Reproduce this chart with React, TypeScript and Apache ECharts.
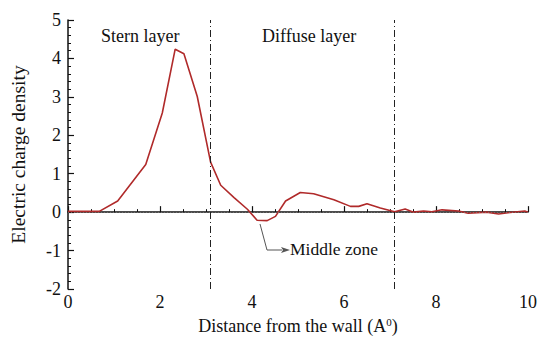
import React, { useEffect, useRef } from "react";
import * as echarts from "echarts";

const distance = [0, 0.68, 1.08, 1.69, 2.05, 2.33, 2.52, 2.81, 3.1, 3.32, 3.61, 3.9, 4.11, 4.33, 4.51, 4.73, 5.05, 5.34, 5.78, 6.14, 6.32, 6.5, 6.79, 7.1, 7.33, 7.51, 7.73, 7.91, 8.13, 8.49, 8.7, 9.1, 9.36, 9.61, 9.93, 10];
const density = [0.02, 0.02, 0.29, 1.24, 2.58, 4.24, 4.12, 3.01, 1.3, 0.7, 0.38, 0.075, -0.21, -0.22, -0.11, 0.29, 0.51, 0.48, 0.32, 0.15, 0.15, 0.22, 0.11, 0.01, 0.08, 0.0, 0.03, 0.01, 0.06, 0.03, -0.03, 0.0, -0.05, -0.01, 0.03, 0.0];
const layerBounds = [3.09, 7.1];
const regionLabels = ["Stern layer", "Diffuse layer", "Middle zone"];

const FONT = "Liberation Serif, Times New Roman, serif";

export default function App() {
  const ref = useRef<HTMLDivElement>(null);
  useEffect(() => {
    document.body.style.margin = "0";
    if (!ref.current) return;
    const chart = echarts.init(ref.current, undefined, { renderer: "svg" });
    chart.setOption({
      animation: false,
      textStyle: { fontFamily: FONT },
      grid: { left: 67, right: 12, top: 20, bottom: 50 },
      xAxis: {
        type: "value",
        min: 0,
        max: 10,
        interval: 2,
        name: "Distance from the wall (A{sup|0})",
        nameLocation: "middle",
        nameGap: 27,
        nameTextStyle: {
          fontFamily: FONT,
          fontSize: 18,
          color: "#111",
          rich: { sup: { fontFamily: FONT, fontSize: 11, verticalAlign: "top", padding: [0, 0, 9, 0], color: "#111" } },
        },
        axisLine: { lineStyle: { color: "#111", width: 1.5 } },
        axisTick: { inside: true, length: 6, lineStyle: { color: "#111", width: 1.2 } },
        minorTick: { show: true, splitNumber: 4, length: 3, lineStyle: { color: "#111", width: 1 } },
        axisLabel: { fontFamily: FONT, fontSize: 18, color: "#111", margin: 4 },
        splitLine: { show: false },
      },
      yAxis: {
        type: "value",
        min: -2,
        max: 5,
        interval: 1,
        name: "Electric charge density",
        nameLocation: "middle",
        nameGap: 40,
        nameTextStyle: { fontFamily: FONT, fontSize: 19.5, color: "#111" },
        axisLine: { show: true, lineStyle: { color: "#111", width: 1.5 } },
        axisTick: { show: true, inside: true, length: 6, lineStyle: { color: "#111", width: 1.2 } },
        minorTick: { show: true, splitNumber: 5, length: 3, lineStyle: { color: "#111", width: 1 } },
        axisLabel: { fontFamily: FONT, fontSize: 18, color: "#111", margin: 7 },
        splitLine: { show: false },
      },
      series: [
        {
          type: "line",
          data: distance.map((d, i) => [d, density[i]]),
          symbol: "none",
          lineStyle: { color: "#b02a2a", width: 1.6 },
          z: 3,
          markLine: {
            silent: true,
            symbol: "none",
            label: { show: false },
            data: [
              { yAxis: 0, lineStyle: { type: [1, 2], color: "#777", width: 0.8 } },
              ...layerBounds.map((b) => ({ xAxis: b, lineStyle: { type: [7, 3, 1, 3], color: "#222", width: 1 } })),
            ],
          },
        },
      ],
      graphic: [
        { type: "text", left: 101, top: 27, style: { text: regionLabels[0], fontFamily: FONT, fontSize: 18, fill: "#111" } },
        { type: "text", left: 262, top: 27, style: { text: regionLabels[1], fontFamily: FONT, fontSize: 18, fill: "#111" } },
        { type: "text", left: 290, top: 240, style: { text: regionLabels[2], fontFamily: FONT, fontSize: 17.5, fill: "#111" } },
        { type: "polyline", shape: { points: [[260, 224], [267, 250], [282, 250]] }, style: { stroke: "#555", lineWidth: 1, fill: "none" } },
        { type: "polygon", shape: { points: [[290, 250], [281, 247], [283, 250], [281, 253]] }, style: { fill: "#555" } },
      ],
    });
    return () => chart.dispose();
  }, []);
  return <div ref={ref} style={{ width: 540, height: 340 }} />;
}
